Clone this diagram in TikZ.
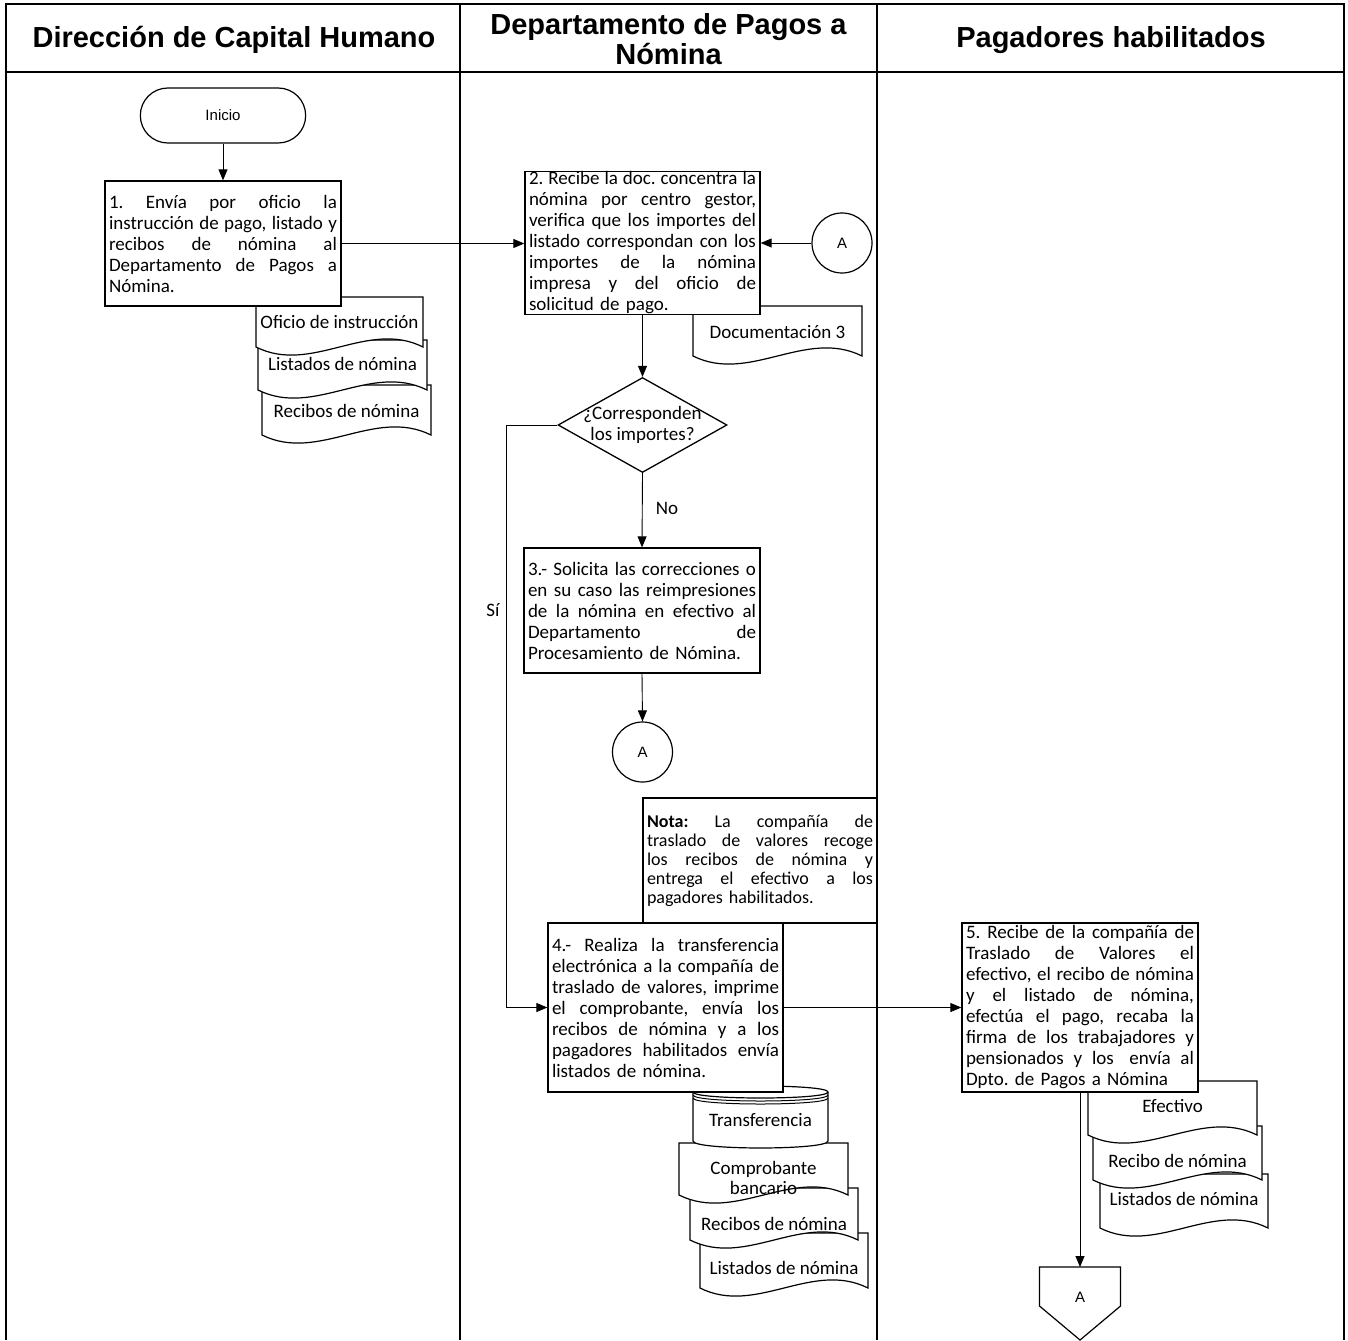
\documentclass[tikz,border=0pt]{standalone}
\usepackage{fontspec}
\setmainfont{Carlito}
\newfontfamily\hdrfont{Liberation Sans}
\usetikzlibrary{arrows.meta,shapes.geometric,shapes.misc}
\frenchspacing
\newcommand{\jw}{228pt}
\newcommand{\jline}[1]{\makebox[\jw][s]{\spaceskip=0.226em plus 6em minus 0.09em\relax #1}\\}
\newcommand{\docshape}[7]{%
  \pgfmathsetmacro\dsxr{#1+#3}%
  \pgfmathsetmacro\dsyb{#2+#4}%
  \pgfmathsetmacro\dsxa{#1+0.667*#3}%
  \pgfmathsetmacro\dsxb{#1+0.333*#3}%
  \pgfmathsetmacro\dsxm{#1+0.5*#3}%
  \draw[docline] (#1,#2) -- (\dsxr,#2) -- (\dsxr,\dsyb) .. controls (\dsxa,\dsyb-28) and (\dsxb,\dsyb+28) .. (#1,\dsyb) -- cycle;
  \node[doctext] (#5) at (\dsxm,#6) {#7};
}
\begin{document}
\begin{tikzpicture}[x=1pt,y=-1pt,
  lane/.style={line width=2.4pt},
  box/.style={draw, fill=white, line width=1.3pt, inner xsep=4pt, inner ysep=2pt, align=left, font=\fontsize{19}{21}\selectfont},
  notebox/.style={box, font=\fontsize{18}{19}\selectfont},
  docline/.style={draw, fill=white, line width=1.2pt},
  doctext/.style={font=\fontsize{19}{20}\selectfont, align=center, inner sep=0pt},
  arr/.style={line width=0.9pt, -{Triangle[length=11pt,width=9pt]}},
  hdr/.style={font=\hdrfont\bfseries\fontsize{29}{30}\selectfont, align=center, inner sep=0pt},
  small/.style={font=\hdrfont\fontsize{15}{17}\selectfont},
  lbl/.style={font=\fontsize{19}{21}\selectfont, inner sep=0pt}
]
\useasboundingbox (0,0) rectangle (1348,1340);
% table
\draw[lane] (6,1340) -- (6,4) -- (1344,4) -- (1344,1340);
\draw[lane] (6,72) -- (1344,72);
\draw[lane] (460,4) -- (460,1340);
\draw[lane] (877,4) -- (877,1340);
% headers
\node[hdr, anchor=base] (h1) at (234,48) {Dirección de Capital Humano};
\node[hdr] (h2) at (668.5,39.6) {Departamento de Pagos a\\Nómina};
\node[hdr, anchor=base] (h3) at (1111,48) {Pagadores habilitados};
% lane 1
\node[draw, rounded rectangle, line width=1.2pt, minimum width=172pt, minimum height=55pt, small] (ini) at (223,115.5) {Inicio};
\docshape{262}{385}{169}{50}{dRec1}{411}{Recibos de nómina}
\docshape{258}{340}{169}{50}{dLis1}{364}{Listados de nómina}
\docshape{256}{297}{167}{50}{dOfi}{322}{Oficio de instrucción}
\node[box, text width=228pt, minimum height=125pt] (b1) at (223,243.5) {\renewcommand{\jw}{228pt}\noindent\jline{1. Envía por oficio la}\jline{instrucción de pago, listado y}\jline{recibos de nómina al}\jline{Departamento de Pagos a}Nómina.};
% lane 2
\docshape{693}{306}{169}{50}{dDoc3}{332}{Documentación 3}
\node[box, text width=227pt, minimum height=142pt, inner ysep=0pt] (b2) at (642.5,243) {\renewcommand{\jw}{227pt}\noindent\jline{2. Recibe la doc. concentra la}\jline{nómina por centro gestor,}\jline{verifica que los importes del}\jline{listado correspondan con los}\jline{importes de la nómina}\jline{impresa y del oficio de}solicitud de pago.};
\node[circle, draw, fill=white, line width=1.2pt, minimum size=60pt, inner sep=0pt, small] (ca1) at (842,243) {A};
\node[diamond, draw, fill=white, line width=1.3pt, minimum width=169pt, minimum height=95pt, inner sep=0pt] (dec) at (642.5,425) {};
\node[font=\fontsize{19}{21}\selectfont, align=center, inner sep=0pt] (dect) at (dec.center) {¿Corresponden\\los importes?};
\node[box, text width=228pt, minimum height=125pt] (b3) at (642,610.5) {\renewcommand{\jw}{228pt}\noindent\jline{3.- Solicita las correcciones o}\jline{en su caso las reimpresiones}\jline{de la nómina en efectivo al}\jline{Departamento de}Procesamiento de Nómina.};
\node[circle, draw, fill=white, line width=1.2pt, minimum size=60pt, inner sep=0pt, small] (ca2) at (642.5,752) {A};
\node[notebox, text width=226pt, minimum height=125pt] (nota) at (760,860.5) {\renewcommand{\jw}{226pt}\noindent\jline{\textbf{Nota:} La compañía de}\jline{traslado de valores recoge}\jline{los recibos de nómina y}\jline{entrega el efectivo a los}pagadores habilitados.};
\docshape{700}{1233}{168}{55}{dLis2}{1268}{Listados de nómina}
\docshape{690}{1188}{168}{52}{dRec2}{1224}{Recibos de nómina}
\docshape{679}{1143}{169}{52}{dCom}{1178}{Comprobante\\bancario}
\draw[docline] (693,1092) -- (693,1141) .. controls (693,1150.3) and (828,1150.3) .. (828,1141) -- (828,1092) .. controls (828,1084) and (693,1084) .. (693,1092) -- cycle;
\draw[line width=1.2pt] (693,1092) .. controls (693,1100) and (828,1100) .. (828,1092);
\draw[line width=1pt] (693,1095) .. controls (693,1103) and (828,1103) .. (828,1095);
\draw[line width=1pt] (693,1098) .. controls (693,1106) and (828,1106) .. (828,1098);
\node[doctext] (dTra) at (760.5,1120) {Transferencia};
\node[box, text width=227pt, minimum height=169pt] (b4) at (665.5,1007.5) {\renewcommand{\jw}{227pt}\noindent\jline{4.- Realiza la transferencia}\jline{electrónica a la compañía de}\jline{traslado de valores, imprime}\jline{el comprobante, envía los}\jline{recibos de nómina y a los}\jline{pagadores habilitados envía}listados de nómina.};
% lane 3
\docshape{1100}{1174}{168}{54}{dLis3}{1199}{Listados de nómina}
\docshape{1093}{1126}{169}{54}{dRec3}{1161}{Recibo de nómina}
\docshape{1088}{1081}{169}{54}{dEfe}{1106}{Efectivo}
\node[box, text width=228pt, minimum height=169pt, inner ysep=0pt] (b5) at (1080,1007.5) {\renewcommand{\jw}{228pt}\noindent\jline{5. Recibe de la compañía de}\jline{Traslado de Valores el}\jline{efectivo, el recibo de nómina}\jline{y el listado de nómina,}\jline{efectúa el pago, recaba la}\jline{firma de los trabajadores y}\jline{pensionados y los\hspace{0.3em} envía al}Dpto. de Pagos a Nómina};
\draw[line width=1.2pt, fill=white] (1039.5,1267) -- (1120.5,1267) -- (1120.5,1306) -- (1080,1340) -- (1039.5,1306) -- cycle;
\coordinate (offtop) at (1080,1267);
\node[small, inner sep=0pt] (offA) at (1080,1297) {A};
% labels
\node[lbl] (lno) at (667,508) {No};
\node[lbl] (lsi) at (493,610) {Sí};
% connectors
\draw[arr] (ini.south) -- (ini.south |- b1.north);
\draw[arr] (b1.east) -- (b1.east -| b2.west);
\draw[arr] (ca1.west) -- (ca1.west -| b2.east);
\draw[arr] (b2.south) -- (dec.north);
\draw[arr] (dec.south) -- (b3.north);
\draw[arr] (b3.south) -- (ca2.north);
\draw[arr] (dec.west) -- ++(-51,0) |- (b4.west);
\draw[arr] (b4.east) -- (b4.east -| b5.west);
\draw[arr] (b5.south) -- (offtop);
\end{tikzpicture}
\end{document}
